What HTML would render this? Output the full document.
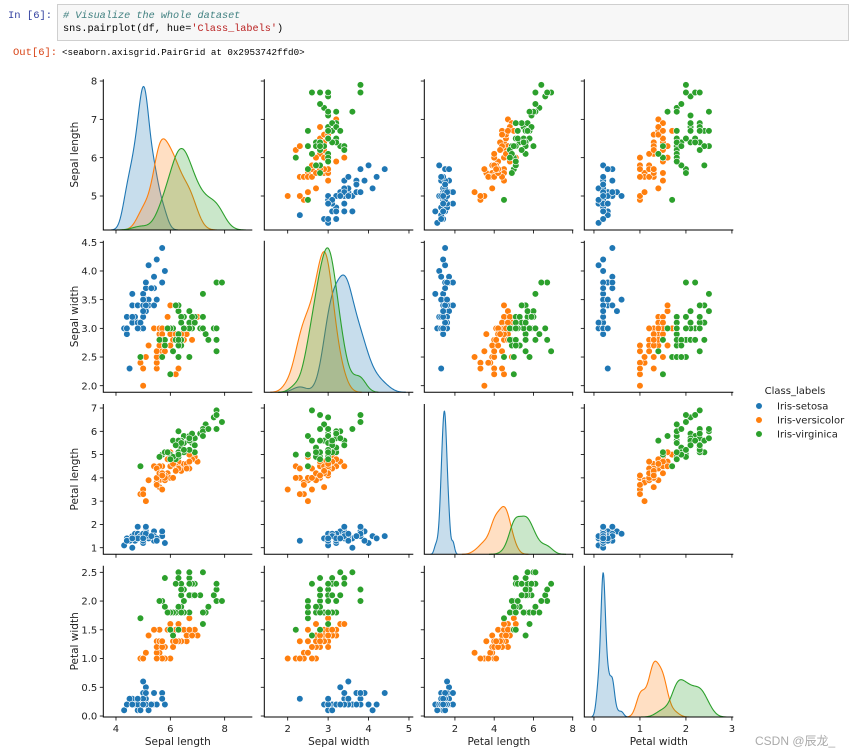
<!DOCTYPE html>
<html><head><meta charset="utf-8">
<style>
html,body{margin:0;padding:0;background:#fff;width:850px;height:755px;overflow:hidden;position:relative;font-family:"DejaVu Sans","Liberation Sans",sans-serif;}
.prompt{position:absolute;font-family:"Liberation Mono",monospace;font-size:10.5px;}
#cell{position:absolute;left:57px;top:4px;width:792px;height:37px;background:#f7f7f7;border:1px solid #cfcfcf;box-sizing:border-box;font-family:"Liberation Mono",monospace;font-size:10.2px;line-height:13px;padding:5px 0 0 5px;white-space:pre;}
#out{position:absolute;left:62px;top:47px;font-family:"Liberation Mono",monospace;font-size:9.2px;white-space:pre;}
#chart{position:absolute;left:0;top:0;}
#wm{position:absolute;left:755px;top:732px;font-size:12px;color:#aaa;font-family:"Liberation Sans","Noto Sans CJK SC",sans-serif;}
</style></head><body>
<div class="prompt" style="left:8px;top:10px;color:#303f9f;">In  [6]:</div>
<div id="cell"><span style="color:#408080;font-style:italic"># Visualize the whole dataset</span>
sns.pairplot(df, hue=<span style="color:#ba2121">'Class_labels'</span>)</div>
<div class="prompt" style="left:13px;top:47px;color:#d84315;">Out[6]:</div>
<div id="out">&lt;seaborn.axisgrid.PairGrid at 0x2953742ffd0&gt;</div>
<svg id="chart" width="850" height="755"></svg>
<div id="wm">CSDN @辰龙_</div>
<script>
const varNames = ["Sepal length","Sepal width","Petal length","Petal width"];
const classNames = ["Iris-setosa","Iris-versicolor","Iris-virginica"];
const classColors = ["#1f77b4","#ff7f0e","#2ca02c"];
const setosa = [
[5.1,3.5,1.4,0.2],[4.9,3.0,1.4,0.2],[4.7,3.2,1.3,0.2],[4.6,3.1,1.5,0.2],[5.0,3.6,1.4,0.2],[5.4,3.9,1.7,0.4],[4.6,3.4,1.4,0.3],[5.0,3.4,1.5,0.2],[4.4,2.9,1.4,0.2],[4.9,3.1,1.5,0.1],
[5.4,3.7,1.5,0.2],[4.8,3.4,1.6,0.2],[4.8,3.0,1.4,0.1],[4.3,3.0,1.1,0.1],[5.8,4.0,1.2,0.2],[5.7,4.4,1.5,0.4],[5.4,3.9,1.3,0.4],[5.1,3.5,1.4,0.3],[5.7,3.8,1.7,0.3],[5.1,3.8,1.5,0.3],
[5.4,3.4,1.7,0.2],[5.1,3.7,1.5,0.4],[4.6,3.6,1.0,0.2],[5.1,3.3,1.7,0.5],[4.8,3.4,1.9,0.2],[5.0,3.0,1.6,0.2],[5.0,3.4,1.6,0.4],[5.2,3.5,1.5,0.2],[5.2,3.4,1.4,0.2],[4.7,3.2,1.6,0.2],
[4.8,3.1,1.6,0.2],[5.4,3.4,1.5,0.4],[5.2,4.1,1.5,0.1],[5.5,4.2,1.4,0.2],[4.9,3.1,1.5,0.1],[5.0,3.2,1.2,0.2],[5.5,3.5,1.3,0.2],[4.9,3.1,1.5,0.1],[4.4,3.0,1.3,0.2],[5.1,3.4,1.5,0.2],
[5.0,3.5,1.3,0.3],[4.5,2.3,1.3,0.3],[4.4,3.2,1.3,0.2],[5.0,3.5,1.6,0.6],[5.1,3.8,1.9,0.4],[4.8,3.0,1.4,0.3],[5.1,3.8,1.6,0.2],[4.6,3.2,1.4,0.2],[5.3,3.7,1.5,0.2],[5.0,3.3,1.4,0.2]];
const versicolor = [
[7.0,3.2,4.7,1.4],[6.4,3.2,4.5,1.5],[6.9,3.1,4.9,1.5],[5.5,2.3,4.0,1.3],[6.5,2.8,4.6,1.5],[5.7,2.8,4.5,1.3],[6.3,3.3,4.7,1.6],[4.9,2.4,3.3,1.0],[6.6,2.9,4.6,1.3],[5.2,2.7,3.9,1.4],
[5.0,2.0,3.5,1.0],[5.9,3.0,4.2,1.5],[6.0,2.2,4.0,1.0],[6.1,2.9,4.7,1.4],[5.6,2.9,3.6,1.3],[6.7,3.1,4.4,1.4],[5.6,3.0,4.5,1.5],[5.8,2.7,4.1,1.0],[6.2,2.2,4.5,1.5],[5.6,2.5,3.9,1.1],
[5.9,3.2,4.8,1.8],[6.1,2.8,4.0,1.3],[6.3,2.5,4.9,1.5],[6.1,2.8,4.7,1.2],[6.4,2.9,4.3,1.3],[6.6,3.0,4.4,1.4],[6.8,2.8,4.8,1.4],[6.7,3.0,5.0,1.7],[6.0,2.9,4.5,1.5],[5.7,2.6,3.5,1.0],
[5.5,2.4,3.8,1.1],[5.5,2.4,3.7,1.0],[5.8,2.7,3.9,1.2],[6.0,2.7,5.1,1.6],[5.4,3.0,4.5,1.5],[6.0,3.4,4.5,1.6],[6.7,3.1,4.7,1.5],[6.3,2.3,4.4,1.3],[5.6,3.0,4.1,1.3],[5.5,2.5,4.0,1.3],
[5.5,2.6,4.4,1.2],[6.1,3.0,4.6,1.4],[5.8,2.6,4.0,1.2],[5.0,2.3,3.3,1.0],[5.6,2.7,4.2,1.3],[5.7,3.0,4.2,1.2],[5.7,2.9,4.2,1.3],[6.2,2.9,4.3,1.3],[5.1,2.5,3.0,1.1],[5.7,2.8,4.1,1.3]];
const virginica = [
[6.3,3.3,6.0,2.5],[5.8,2.7,5.1,1.9],[7.1,3.0,5.9,2.1],[6.3,2.9,5.6,1.8],[6.5,3.0,5.8,2.2],[7.6,3.0,6.6,2.1],[4.9,2.5,4.5,1.7],[7.3,2.9,6.3,1.8],[6.7,2.5,5.8,1.8],[7.2,3.6,6.1,2.5],
[6.5,3.2,5.1,2.0],[6.4,2.7,5.3,1.9],[6.8,3.0,5.5,2.1],[5.7,2.5,5.0,2.0],[5.8,2.8,5.1,2.4],[6.4,3.2,5.3,2.3],[6.5,3.0,5.5,1.8],[7.7,3.8,6.7,2.2],[7.7,2.6,6.9,2.3],[6.0,2.2,5.0,1.5],
[6.9,3.2,5.7,2.3],[5.6,2.8,4.9,2.0],[7.7,2.8,6.7,2.0],[6.3,2.7,4.9,1.8],[6.7,3.3,5.7,2.1],[7.2,3.2,6.0,1.8],[6.2,2.8,4.8,1.8],[6.1,3.0,4.9,1.8],[6.4,2.8,5.6,2.1],[7.2,3.0,5.8,1.6],
[7.4,2.8,6.1,1.9],[7.9,3.8,6.4,2.0],[6.4,2.8,5.6,2.2],[6.3,2.8,5.1,1.5],[6.1,2.6,5.6,1.4],[7.7,3.0,6.1,2.3],[6.3,3.4,5.6,2.4],[6.4,3.1,5.5,1.8],[6.0,3.0,4.8,1.8],[6.9,3.1,5.4,2.1],
[6.7,3.1,5.6,2.4],[6.9,3.1,5.1,2.3],[5.8,2.7,5.1,1.9],[6.8,3.2,5.9,2.3],[6.7,3.3,5.7,2.5],[6.7,3.0,5.2,2.3],[6.3,2.5,5.0,1.9],[6.5,3.0,5.2,2.0],[6.2,3.4,5.4,2.3],[5.9,3.0,5.1,1.8]];
const xTicks = [[4,6,8],[2,3,4,5],[2,4,6,8],[0,1,2,3]];
const yTicks = [[5,6,7,8],[2.0,2.5,3.0,3.5,4.0,4.5],[1,2,3,4,5,6,7],[0.0,0.5,1.0,1.5,2.0,2.5]];
const yTickLabels = [["5","6","7","8"],["2.0","2.5","3.0","3.5","4.0","4.5"],["1","2","3","4","5","6","7"],["0.0","0.5","1.0","1.5","2.0","2.5"]];

const classes = [setosa, versicolor, virginica];
// layout (pixel geometry)
const colL = [103.3,264.3,424.3,584.3], colW = 149;
const colDom = [[3.533,9.017],[1.421,5.107],[0.44,8.03],[-0.21,3.03]];
const rowT = [79.3,240.7,404,565.7], rowB = [230,392.3,554.3,717];
const rowDom = [[4.113,8.045],[1.885,4.528],[0.717,7.173],[-0.017,2.615]];
const NS = "http://www.w3.org/2000/svg";
const svg = document.getElementById('chart');
function mk(tag, attrs, parent){const e=document.createElementNS(NS,tag);for(const k in attrs)e.setAttribute(k,attrs[k]);(parent||svg).appendChild(e);return e;}
function xs(c,v){const d=colDom[c];return colL[c]+(v-d[0])/(d[1]-d[0])*colW;}
function ys(r,v){const d=rowDom[r];return rowB[r]-(v-d[0])/(d[1]-d[0])*(rowB[r]-rowT[r]);}

function kde(vals){
  const n=vals.length, m=vals.reduce((a,b)=>a+b,0)/n;
  const sd=Math.sqrt(vals.reduce((a,b)=>a+(b-m)*(b-m),0)/(n-1));
  const bw=sd*Math.pow(n,-0.2);
  const lo=Math.min(...vals)-3*bw, hi=Math.max(...vals)+3*bw;
  const pts=[];
  for(let i=0;i<=200;i++){const x=lo+(hi-lo)*i/200;let s=0;for(const v of vals){const z=(x-v)/bw;s+=Math.exp(-0.5*z*z);}
    pts.push([x,s/(n*bw*Math.sqrt(2*Math.PI))/3]);}
  return pts;
}

for(let r=0;r<4;r++){
  for(let c=0;c<4;c++){
    const g=mk('g',{});
    
    
    const L=colL[c],R=colL[c]+colW,T=rowT[r],B=rowB[r];
    if(r===c){
      const curves=classes.map(cl=>kde(cl.map(row=>row[c])));
      let ymax=0;curves.forEach(cv=>cv.forEach(p=>{if(p[1]>ymax)ymax=p[1];}));
      const top=ymax*1.05;
      const yd=v=>B-v/top*(B-T);
      curves.forEach((cv,k)=>{
        let d='M'+xs(c,cv[0][0]).toFixed(2)+','+B;
        cv.forEach(p=>{d+='L'+xs(c,p[0]).toFixed(2)+','+yd(p[1]).toFixed(2);});
        d+='L'+xs(c,cv[cv.length-1][0]).toFixed(2)+','+B+'Z';
        const f=mk('path',{d:d,fill:classColors[k],'fill-opacity':0.25,stroke:'none'},g);
        
        
        let d2='';cv.forEach((p,i)=>{d2+=(i?'L':'M')+xs(c,p[0]).toFixed(2)+','+yd(p[1]).toFixed(2);});
        const ln=mk('path',{d:d2,fill:'none',stroke:classColors[k],'stroke-width':1.1},g);
        
        
      });
    } else {
      classes.forEach((cl,k)=>{
        cl.forEach(row=>{
          const p=mk('circle',{cx:xs(c,row[c]).toFixed(2),cy:ys(r,row[r]).toFixed(2),r:3.3,fill:classColors[k],stroke:'#fff','stroke-width':0.6},g);
          
          
        });
      });
    }
    // spines
    const sp=mk('path',{d:`M${L},${T}V${B}H${R}`,fill:'none',stroke:'#000','stroke-width':1},g);
    
    
    // x ticks
    xTicks[c].forEach(t=>{
      const x=xs(c,t);
      const tk=mk('line',{x1:x,x2:x,y1:B,y2:B+3.5,stroke:'#000','stroke-width':0.8},g);
      
      
      if(r===3){
        const tl=mk('text',{x:x,y:B+15,'text-anchor':'middle','font-size':10,fill:'#222'},g);
        tl.textContent=String(t);
        
        
      }
    });
    if(r!==c){
      yTicks[r].forEach((t,i)=>{
        const y=ys(r,t);
        const tk=mk('line',{x1:L-3.5,x2:L,y1:y,y2:y,stroke:'#000','stroke-width':0.8},g);
        
        
        if(c===0){
          const tl=mk('text',{x:L-6,y:y+3.6,'text-anchor':'end','font-size':10,fill:'#222'},g);
          tl.textContent=yTickLabels[r][i];
          
          
        }
      });
    } else if(c===0){
      yTicks[r].forEach((t,i)=>{
        const y=ys(r,t);
        const tk=mk('line',{x1:L-3.5,x2:L,y1:y,y2:y,stroke:'#000','stroke-width':0.8},g);
        
        
        const tl=mk('text',{x:L-6,y:y+3.6,'text-anchor':'end','font-size':10,fill:'#222'},g);
        tl.textContent=yTickLabels[r][i];
        
        
      });
    }
  }
}
// axis titles
for(let c=0;c<4;c++){
  const t=mk('text',{x:colL[c]+colW/2,y:745,'text-anchor':'middle','font-size':10.5,fill:'#222'});
  t.textContent=varNames[c];
  
  
}
for(let r=0;r<4;r++){
  const cy=(rowT[r]+rowB[r])/2;
  const t=mk('text',{x:0,y:0,'text-anchor':'middle','font-size':10.5,fill:'#222',transform:`translate(78,${cy}) rotate(-90)`});
  t.textContent=varNames[r];
  
  
}
// legend
const lg=mk('g',{});


const lt=mk('text',{x:795,y:394,'text-anchor':'middle','font-size':10,fill:'#222'},lg);
lt.textContent='Class_labels';


classNames.forEach((n,k)=>{
  const y=406+k*14;
  const m=mk('circle',{cx:759,cy:y,r:3.3,fill:classColors[k],stroke:'#fff','stroke-width':0.6},lg);
  
  
  const t=mk('text',{x:777,y:y+3.5,'font-size':10,fill:'#222'},lg);
  t.textContent=n;
  
  
});
</script>
</body></html>
